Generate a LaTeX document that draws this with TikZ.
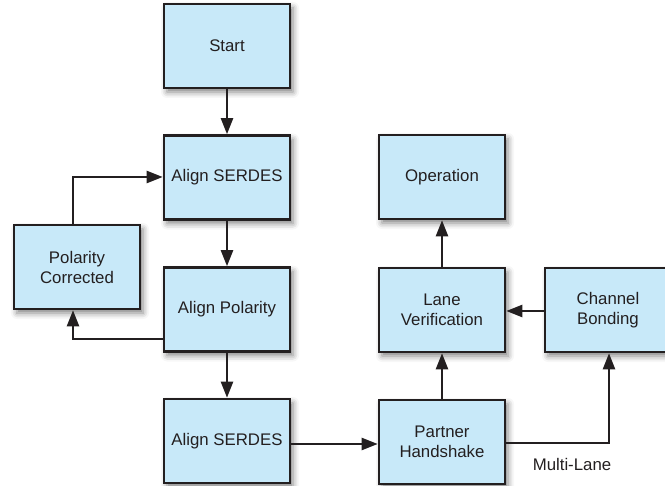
\documentclass[tikz,border=0pt]{standalone}
\usepackage{fontspec}
\setmainfont{Liberation Sans}
\usetikzlibrary{arrows.meta,shadows.blur}
\definecolor{boxfill}{HTML}{C8E9F9}
\definecolor{ink}{HTML}{231F20}
\tikzset{
  box/.style={draw=ink, line width=2.6pt, fill=boxfill, minimum width=126pt, minimum height=84pt,
    inner sep=0pt, align=center, text=ink, font=\fontsize{16.8}{20}\selectfont,
    blur shadow={shadow xshift=3pt, shadow yshift=-4pt, shadow blur radius=6pt, shadow opacity=50}},
  conn/.style={draw=ink, line width=2.4pt, -{Triangle[length=16pt,width=12pt]}},
  lbl/.style={text=ink, font=\fontsize{16.8}{20}\selectfont}
}
\begin{document}
\begin{tikzpicture}[x=1pt,y=-1pt]
\useasboundingbox (0,0) rectangle (665,486);
\node[box] (start) at (227,46) {Start};
\node[box] (as1) at (227,177.5) {Align SERDES};
\node[box] (pc) at (77,267) {Polarity\\Corrected};
\node[box] (ap) at (227,309.5) {Align Polarity};
\node[box] (as2) at (227,441) {Align SERDES};
\node[box] (ph) at (442,442) {Partner\\Handshake};
\node[box] (lv) at (442,310) {Lane\\Verification};
\node[box] (cb) at (608,310) {Channel\\Bonding};
\node[box] (op) at (442,177) {Operation};
\coordinate (c1) at (73,177);
\coordinate (c2) at (73,339);
\coordinate (c3) at (609,443);
\draw[conn] (start) -- (as1);
\draw[conn] (pc.north -| c1) -- (c1) -- (as1.west |- c1);
\draw[conn] (as1) -- (ap);
\draw[conn] (ap.west |- c2) -- (c2) -- (pc.south -| c2);
\draw[conn] (ap) -- (as2);
\draw[conn] (as2.east |- 0,444) -- (ph.west |- 0,444);
\draw[conn] (ph) -- (lv);
\draw[conn] (cb.west |- 0,311) -- (lv.east |- 0,311);
\draw[conn] (lv) -- (op);
\draw[conn] (ph.east |- c3) -- (c3) -- (cb.south -| c3);
\node[lbl] (ml) at (572,464) {Multi-Lane};
\end{tikzpicture}
\end{document}
